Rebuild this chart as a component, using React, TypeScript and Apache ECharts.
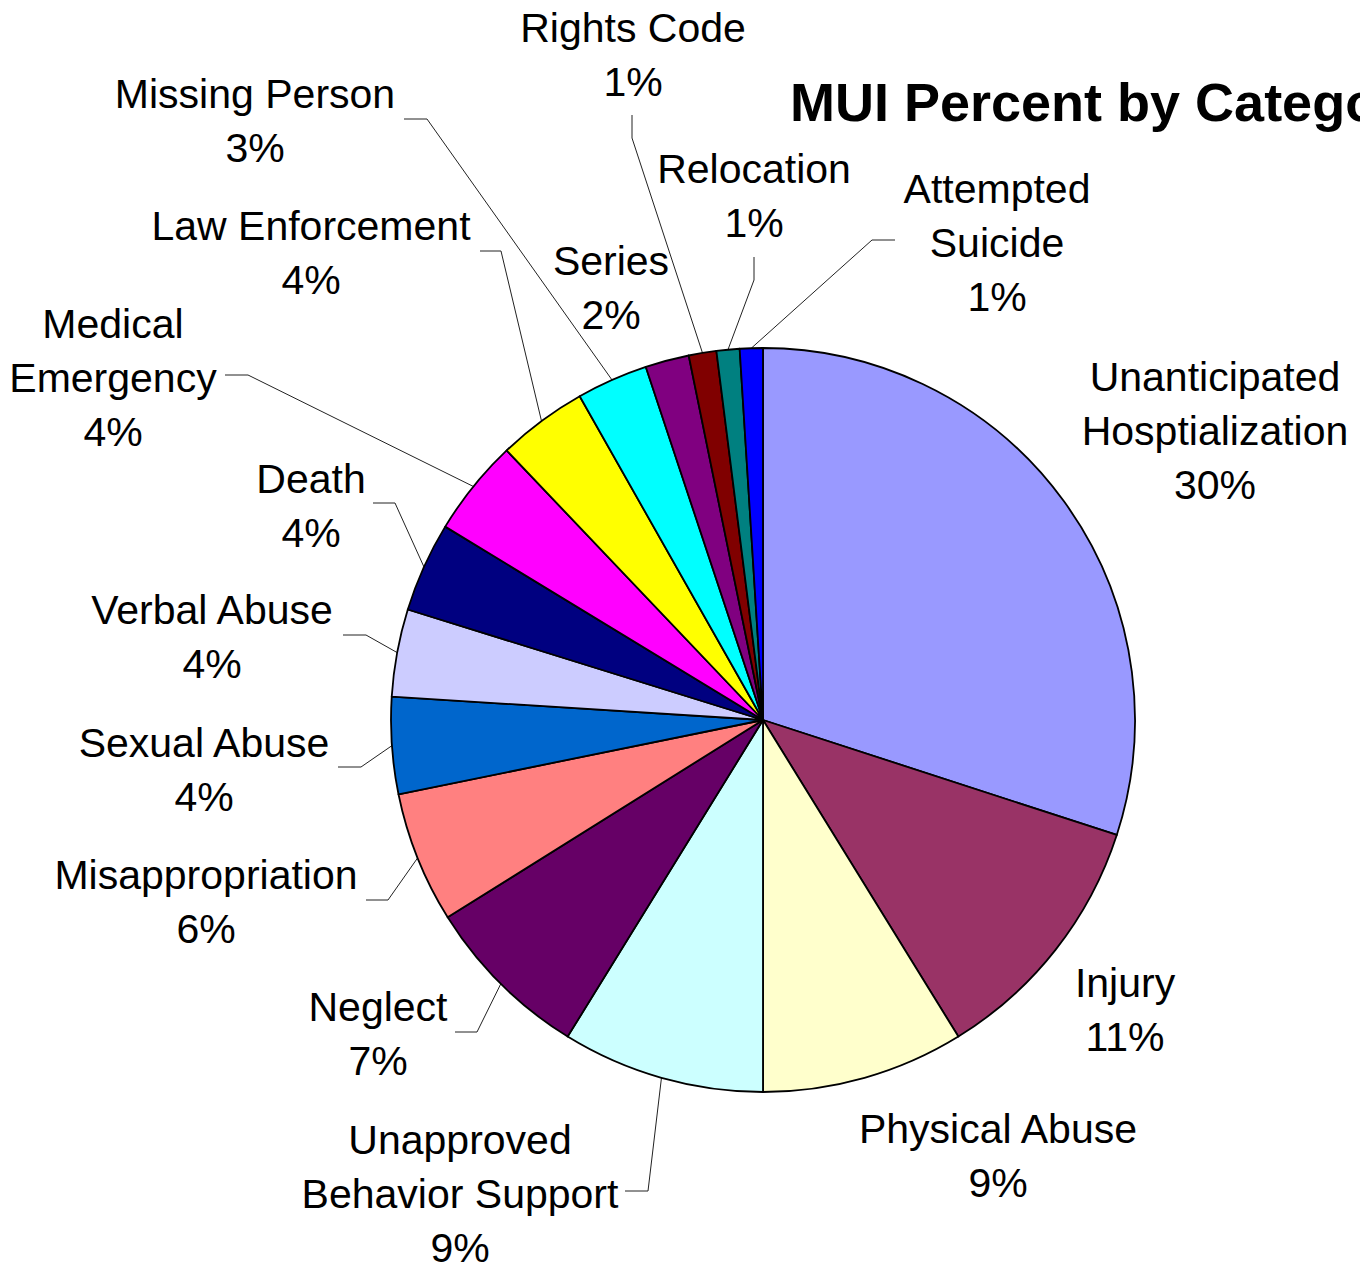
import React, { useEffect, useRef } from 'react';
import * as echarts from 'echarts';

// ---- Data ----
const categories: string[] = [
  'Unanticipated Hosptialization',
  'Injury',
  'Physical Abuse',
  'Unapproved Behavior Support',
  'Neglect',
  'Misappropriation',
  'Sexual Abuse',
  'Verbal Abuse',
  'Death',
  'Medical Emergency',
  'Law Enforcement',
  'Missing Person',
  'Series',
  'Rights Code',
  'Relocation',
  'Attempted Suicide',
];

// label text as wrapped in the chart
const labelNames: string[] = [
  'Unanticipated\nHosptialization',
  'Injury',
  'Physical Abuse',
  'Unapproved\nBehavior Support',
  'Neglect',
  'Misappropriation',
  'Sexual Abuse',
  'Verbal Abuse',
  'Death',
  'Medical\nEmergency',
  'Law Enforcement',
  'Missing Person',
  'Series',
  'Rights Code',
  'Relocation',
  'Attempted\nSuicide',
];

// percent share of each category
const values: number[] = [30.0, 11.2, 8.8, 8.8, 7.3, 5.7, 4.2, 3.8, 3.9, 4.2, 3.9, 3.1, 1.9, 1.2, 1.0, 1.0];

// ---- Styles / layout ----
const colors: string[] = [
  '#9999FF', '#993366', '#FFFFCC', '#CCFFFF', '#660066', '#FF8080', '#0066CC', '#CCCCFF',
  '#000080', '#FF00FF', '#FFFF00', '#00FFFF', '#800080', '#800000', '#008080', '#0000FF',
];

const labelCenters: number[][] = [
  [1215, 431], [1125, 1010], [998, 1156], [460, 1194], [378, 1034], [206, 902], [204, 770],
  [212, 637], [311, 506], [113, 378], [311, 253], [255, 121], [611, 288], [633, 55],
  [754, 196], [997, 243],
];

const leaderBends: (number[] | null)[] = [
  null, null, null, [648, 1191], [477, 1032], [388, 900], [361, 767], [366, 635], [395, 503],
  [248, 375], [501, 251], [427, 119], null, [632, 138], [754, 280], [872, 240],
];

const leaderEnds: (number[] | null)[] = [
  null, null, null, [625, 1191], [455, 1032], [366, 900], [338, 767], [343, 635], [373, 503],
  [225, 375], [480, 251], [404, 119], null, [632, 115], [754, 257], [895, 240],
];

const FONT = '"Liberation Sans", Arial, Helvetica, sans-serif';

export default function App() {
  const ref = useRef<HTMLDivElement>(null);

  useEffect(() => {
    if (!ref.current) return;
    const chart = echarts.init(ref.current, undefined, { renderer: 'svg' });

    const data = categories.map((name, i) => ({
      name,
      value: values[i],
      itemStyle: { color: colors[i] },
      labelLine: { show: leaderBends[i] != null },
    }));

    chart.setOption({
      animation: false,
      backgroundColor: '#ffffff',
      title: {
        text: 'MUI Percent by Category',
        left: 790,
        top: 72,
        padding: 0,
        textStyle: {
          fontFamily: FONT,
          fontSize: 54,
          fontWeight: 'bold',
          color: '#000',
          lineHeight: 60,
        },
      },
      series: [
        {
          type: 'pie',
          center: [763, 720],
          radius: 372,
          startAngle: 90,
          clockwise: true,
          avoidLabelOverlap: false,
          data,
          itemStyle: { borderColor: '#000', borderWidth: 1.8 },
          label: {
            show: true,
            position: 'outside',
            color: '#000',
            fontFamily: FONT,
            fontSize: 41,
            lineHeight: 54,
            align: 'center',
            formatter: (p: any) => labelNames[p.dataIndex] + '\n' + Math.round(p.percent) + '%',
          },
          labelLine: {
            show: true,
            length: 10,
            length2: 10,
            lineStyle: { color: '#222', width: 1 },
          },
          emphasis: { disabled: true },
          labelLayout: (params: any) => {
            const i = params.dataIndex;
            const c = labelCenters[i];
            const res: any = {
              x: c[0],
              y: c[1],
              align: 'center',
              verticalAlign: 'middle',
              hideOverlap: false,
            };
            const bend = leaderBends[i];
            const end = leaderEnds[i];
            if (bend && end && params.labelLinePoints) {
              res.labelLinePoints = [params.labelLinePoints[0], bend, end];
            }
            return res;
          },
        },
      ],
    });

    return () => chart.dispose();
  }, []);

  return (
    <div
      ref={ref}
      style={{ position: 'absolute', left: 0, top: 0, width: 1360, height: 1271, background: '#fff' }}
    />
  );
}
